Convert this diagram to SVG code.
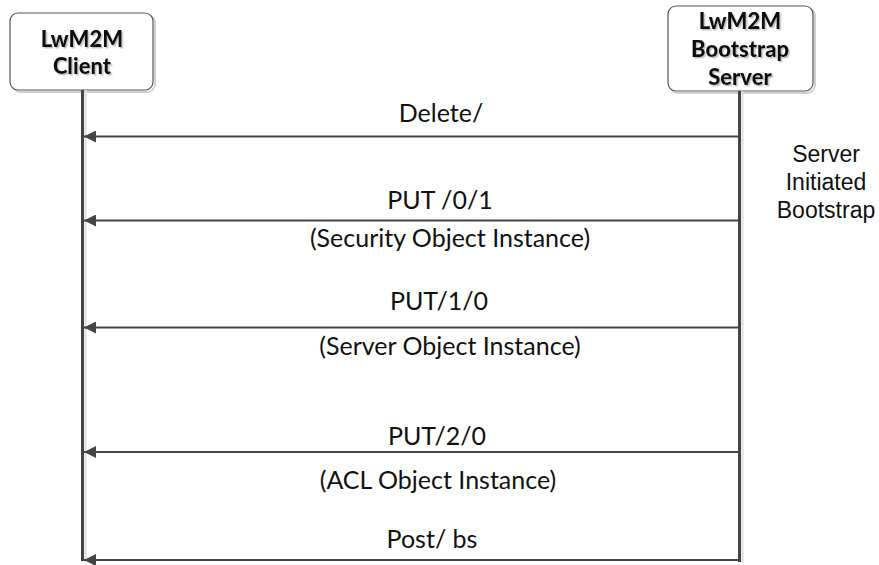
<svg xmlns="http://www.w3.org/2000/svg" width="879" height="565" viewBox="0 0 879 565">
<style>
.box{fill:#fff;stroke:#555;stroke-width:1.2}
.boxsh{fill:none;stroke:#d0d0d0;stroke-width:2}
.nt{font-family:Lato,"Liberation Sans",sans-serif;font-weight:900;font-size:22px;fill:#111;text-anchor:middle}
.life{stroke:#444;stroke-width:3;fill:none}
.lifesh{stroke:#ddd;stroke-width:2;fill:none}
.msg{stroke:#444;stroke-width:2;fill:none;marker-end:url(#ah)}
.lbl{font-family:Lato,"Liberation Sans",sans-serif;font-size:25px;fill:#111;text-anchor:middle}
.note{font-family:"Liberation Sans",Arial,sans-serif;font-size:23px;fill:#111;text-anchor:middle}
</style>
<defs>
<marker id="ah" markerWidth="12" markerHeight="12" refX="12" refY="6" orient="auto" markerUnits="userSpaceOnUse">
<path d="M0,0 L12,6 L0,12 Z" fill="#444"/>
</marker>
<filter id="ts" x="-10%" y="-10%" width="130%" height="140%">
<feDropShadow dx="1.5" dy="1.5" stdDeviation="0.6" flood-color="#999" flood-opacity="0.6"/>
</filter>
</defs>
<g id="client">
<rect class="boxsh" x="12" y="15" width="143" height="77" rx="8"/>
<rect class="box" x="10" y="13" width="143" height="77" rx="8"/>
<g filter="url(#ts)">
<text class="nt" x="82" y="47">LwM2M</text>
<text class="nt" x="82" y="74">Client</text>
</g>
</g>
<g id="bootstrap-server">
<rect class="boxsh" x="670" y="8" width="145" height="85" rx="8"/>
<rect class="box" x="668" y="6" width="145" height="85" rx="8"/>
<g filter="url(#ts)">
<text class="nt" x="740" y="29">LwM2M</text>
<text class="nt" x="740" y="57">Bootstrap</text>
<text class="nt" x="740" y="85">Server</text>
</g>
</g>
<g id="lifelines">
<line class="lifesh" x1="85.5" y1="90" x2="85.5" y2="562"/>
<line class="life" x1="82.5" y1="90" x2="82.5" y2="561"/>
<line class="lifesh" x1="742.5" y1="91" x2="742.5" y2="563"/>
<line class="life" x1="739.5" y1="91" x2="739.5" y2="562"/>
</g>
<g id="connectors">
<line class="msg" x1="738" y1="136.5" x2="84" y2="136.5"/>
<line class="msg" x1="738" y1="220.5" x2="84" y2="220.5"/>
<line class="msg" x1="738" y1="327.5" x2="84" y2="327.5"/>
<line class="msg" x1="738" y1="452" x2="84" y2="452"/>
<line class="msg" x1="738" y1="560" x2="84" y2="560"/>
</g>
<g id="labels">
<text class="lbl" x="441" y="122">Delete/</text>
<text class="lbl" x="440" y="209">PUT /0/1</text>
<text class="lbl" x="450" y="247">(Security Object Instance)</text>
<text class="lbl" x="439" y="310">PUT/1/0</text>
<text class="lbl" x="450" y="355">(Server Object Instance)</text>
<text class="lbl" x="437" y="445">PUT/2/0</text>
<text class="lbl" x="438" y="489">(ACL Object Instance)</text>
<text class="lbl" x="432" y="548">Post/ bs</text>
</g>
<g id="note">
<text class="note" x="826" y="162">Server</text>
<text class="note" x="826" y="190">Initiated</text>
<text class="note" x="826" y="218">Bootstrap</text>
</g>
</svg>
